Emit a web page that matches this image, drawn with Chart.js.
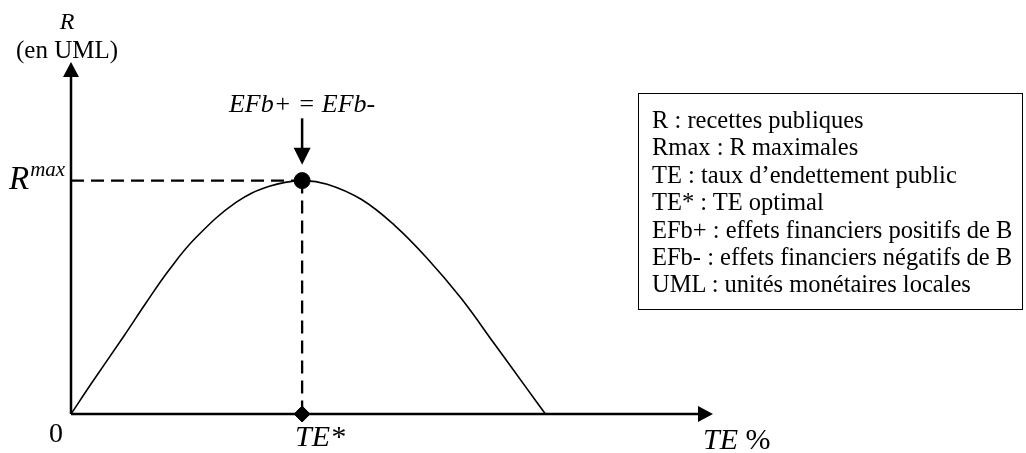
<!DOCTYPE html>
<html>
<head>
<meta charset="utf-8">
<script src="https://cdn.jsdelivr.net/npm/chart.js@4/dist/chart.umd.min.js"></script>
<style>
  body { margin: 0; background: #fff; }
  #wrap { position: relative; width: 1026px; height: 453px; }
  #note {
    position: absolute; left: 638px; top: 93px; width: 370px; height: 191px;
    border: 1.5px solid #000; padding: 12px 0 12px 13px;
    font-family: "Liberation Serif", "Times New Roman", serif; font-size: 24.5px; line-height: 27.4px; color: #000;
    white-space: nowrap;
  }
</style>
</head>
<body>
<div id="wrap">
  <canvas id="chart" width="1026" height="453"></canvas>
  <div id="note"></div>
</div>
<script>
const teValues = [0, 3.3, 8.3, 11.7, 15.3, 19.5, 25.7, 30.9, 36.0, 39.9, 45.2, 50.4, 55.5, 60.8, 66.0, 71.1, 73.9];
const rValues  = [0, 9.0, 22.3, 31.6, 41.0, 50.2, 60.1, 64.7, 66.3, 65.3, 61.0, 53.6, 44.2, 32.8, 19.8, 7.0, 0];
const teStar = 36.0;
const rMax = 66.3;
const noteLines = [
    'R : recettes publiques',
    'Rmax : R maximales',
    'TE : taux d\u2019endettement public',
    'TE* : TE optimal',
    'EFb+ : effets financiers positifs de B',
    'EFb- : effets financiers n\u00e9gatifs de B',
    'UML : unit\u00e9s mon\u00e9taires locales'
];

document.getElementById('note').innerHTML = noteLines.join('<br>');

const serif = '"Liberation Serif", "Times New Roman", serif';

function arrowHead(ctx, x, y, dir, len, half) {
    ctx.beginPath();
    if (dir == 'up') {
        ctx.moveTo(x, y); ctx.lineTo(x - half, y + len); ctx.lineTo(x + half, y + len);
    } else if (dir == 'down') {
        ctx.moveTo(x, y); ctx.lineTo(x - half, y - len); ctx.lineTo(x + half, y - len);
    } else {
        ctx.moveTo(x, y); ctx.lineTo(x - len, y - half); ctx.lineTo(x - len, y + half);
    }
    ctx.closePath();
    ctx.fill();
}

const axesPlugin = {
    id: 'axesPlugin',
    beforeDatasetsDraw(chart) {
        const ctx = chart.ctx;
        const a = chart.chartArea;
        const x0 = chart.scales.x.getPixelForValue(0);
        const y0 = chart.scales.y.getPixelForValue(0);
        ctx.save();
        ctx.strokeStyle = '#000';
        ctx.fillStyle = '#000';
        ctx.lineWidth = 2.5;
        ctx.beginPath();
        ctx.moveTo(x0, y0); ctx.lineTo(x0, a.top + 10);
        ctx.moveTo(x0, y0); ctx.lineTo(a.right - 10, y0);
        ctx.stroke();
        arrowHead(ctx, x0, a.top, 'up', 15, 8);
        arrowHead(ctx, a.right, y0, 'right', 15, 8);
        ctx.restore();
    },
    afterDatasetsDraw(chart) {
        const ctx = chart.ctx;
        const xs = chart.scales.x, ys = chart.scales.y;
        const px = xs.getPixelForValue(teStar);
        ctx.save();
        ctx.fillStyle = '#000';
        ctx.strokeStyle = '#000';
        // fleche EFb+ = EFb-
        const yTop = ys.getPixelForValue(84), yTip = ys.getPixelForValue(70.8);
        ctx.lineWidth = 2.5;
        ctx.beginPath();
        ctx.moveTo(px, yTop); ctx.lineTo(px, yTip - 12);
        ctx.stroke();
        arrowHead(ctx, px, yTip, 'down', 17, 8.5);

        ctx.textBaseline = 'alphabetic';
        ctx.textAlign = 'center';
        ctx.font = 'italic 26px ' + serif;
        ctx.fillText('EFb+ = EFb-', px, 112);
        ctx.font = 'italic 24px ' + serif;
        ctx.fillText('R', 67, 29);
        ctx.font = '25px ' + serif;
        ctx.fillText('(en UML)', 67, 58);
        ctx.font = '28px ' + serif;
        ctx.fillText('0', 56, 442);

        ctx.textAlign = 'left';
        ctx.font = 'italic 33px ' + serif;
        ctx.fillText('R', 9, 189);
        const rw = ctx.measureText('R').width;
        ctx.font = 'italic 21px ' + serif;
        ctx.fillText('max', 9 + rw + 1, 176);

        ctx.font = 'italic 30px ' + serif;
        ctx.fillText('TE*', 295, 446);
        ctx.fillText('TE', 703, 449);
        const tw = ctx.measureText('TE ').width;
        ctx.font = '30px ' + serif;
        ctx.fillText('%', 703 + tw, 449);
        ctx.restore();
    }
};

const ctx = document.getElementById('chart').getContext('2d');
const chart = new Chart(ctx, {
    type: 'scatter',
    data: {
        datasets: [
            {
                label: 'R',
                data: teValues.map((v, i) => ({x: v, y: rValues[i]})),
                showLine: true,
                borderColor: '#000',
                borderWidth: 1.6,
                pointRadius: 0,
                tension: 0.4,
                clip: false
            },
            {
                label: 'Rmax',
                data: [{x: 0, y: rMax}, {x: teStar, y: rMax}],
                showLine: true,
                borderColor: '#000',
                borderWidth: 2.3,
                borderDash: [13, 7],
                pointRadius: 0,
                clip: false
            },
            {
                label: 'TE*',
                data: [{x: teStar, y: rMax}, {x: teStar, y: 0}],
                showLine: true,
                borderColor: '#000',
                borderWidth: 2.3,
                borderDash: [13, 7],
                pointRadius: 0,
                clip: false
            },
            {
                label: 'optimum',
                data: [{x: teStar, y: rMax}],
                pointStyle: 'circle',
                pointRadius: 8,
                backgroundColor: '#000',
                borderColor: '#000',
                clip: false
            },
            {
                label: 'TE* axe',
                data: [{x: teStar, y: 0}],
                pointStyle: 'rectRot',
                pointRadius: 8,
                backgroundColor: '#000',
                borderColor: '#000',
                clip: false
            }
        ]
    },
    options: {
        responsive: false,
        animation: false,
        layout: { padding: { left: 71, right: 313, top: 62, bottom: 39 } },
        plugins: { legend: { display: false }, tooltip: { enabled: false } },
        scales: {
            x: { type: 'linear', min: 0, max: 100, display: false },
            y: { min: 0, max: 100, display: false }
        }
    },
    plugins: [axesPlugin]
});
</script>
</body>
</html>
